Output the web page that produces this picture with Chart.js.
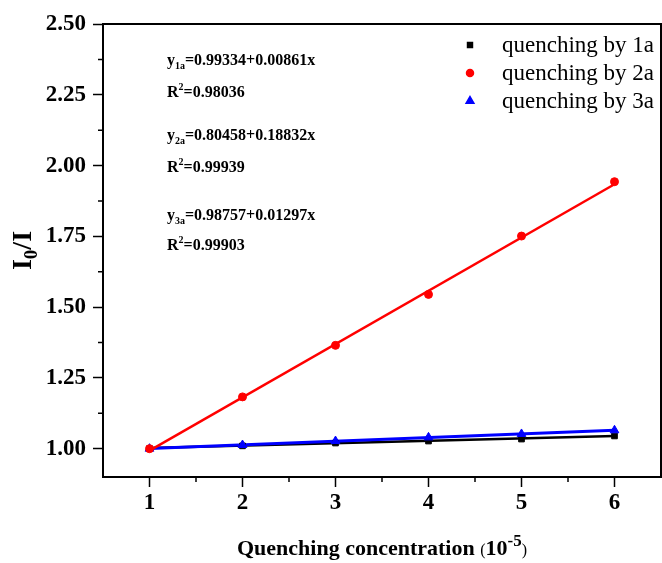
<!DOCTYPE html>
<html>
<head>
<meta charset="utf-8">
<script src="https://cdn.jsdelivr.net/npm/chart.js@4.4.0/dist/chart.umd.min.js"></script>
<style>
  body { margin: 0; background: #fff; }
  canvas { display: block; }
</style>
</head>
<body>
<canvas id="quenchChart" width="662" height="563"></canvas>
<script>
// data
var concentrations = [1, 2, 3, 4, 5, 6];
var quench1a = [1.000, 1.010, 1.020, 1.027, 1.034, 1.045];
var quench2a = [1.000, 1.183, 1.365, 1.545, 1.751, 1.943];
var quench3a = [1.000, 1.013, 1.027, 1.040, 1.052, 1.065];

// ends of the fitted lines
var fitX = [1, 6];
var fit1a = [1.002, 1.045];
var fit2a = [0.993, 1.934];
var fit3a = [1.001, 1.065];

var xTicks = [1, 2, 3, 4, 5, 6];
var yTicks = [1.00, 1.25, 1.50, 1.75, 2.00, 2.25, 2.50];

var seriesLabels = ["quenching by 1a", "quenching by 2a", "quenching by 3a"];
var fitNames = ["1a", "2a", "3a"];
var fitEquations = ["=0.99334+0.00861x", "=0.80458+0.18832x", "=0.98757+0.01297x"];
var fitR2 = ["=0.98036", "=0.99939", "=0.99903"];

var serif = "'Liberation Serif', 'Times New Roman', serif";

function toPoints(xs, ys) {
    return xs.map(function(x, i) { return { x: x, y: ys[i] }; });
}

var extrasPlugin = {
    id: "extras",
    afterDraw: function(chart) {
        var ctx = chart.ctx;
        var area = chart.chartArea;
        var xs = chart.scales.x;
        var ys = chart.scales.y;
        ctx.save();

        // frame top and right
        ctx.strokeStyle = "#000";
        ctx.lineWidth = 2;
        ctx.beginPath();
        ctx.moveTo(area.left, area.top);
        ctx.lineTo(area.right, area.top);
        ctx.lineTo(area.right, area.bottom);
        ctx.stroke();

        // minor ticks
        ctx.lineWidth = 1.5;
        ctx.beginPath();
        for (var i = 0; i < xTicks.length - 1; i++) {
            var px = xs.getPixelForValue((xTicks[i] + xTicks[i + 1]) / 2);
            ctx.moveTo(px, area.bottom);
            ctx.lineTo(px, area.bottom + 5);
        }
        for (var j = 0; j < yTicks.length - 1; j++) {
            var py = ys.getPixelForValue((yTicks[j] + yTicks[j + 1]) / 2);
            ctx.moveTo(area.left, py);
            ctx.lineTo(area.left - 5, py);
        }
        ctx.stroke();

        ctx.fillStyle = "#000";
        ctx.textBaseline = "alphabetic";
        ctx.textAlign = "left";

        // x title
        var parts = [
            { t: "Quenching concentration ", f: "bold 22px " + serif, dy: 0 },
            { t: "(", f: "16px " + serif, dy: 0 },
            { t: "10", f: "bold 22px " + serif, dy: 0 },
            { t: "-5", f: "bold 17px " + serif, dy: -9 },
            { t: ")", f: "16px " + serif, dy: 0 }
        ];
        var total = 0;
        parts.forEach(function(p) { ctx.font = p.f; total += ctx.measureText(p.t).width; });
        var cx = (area.left + area.right) / 2 - total / 2;
        parts.forEach(function(p) {
            ctx.font = p.f;
            ctx.fillText(p.t, cx, 555 + p.dy);
            cx += ctx.measureText(p.t).width;
        });

        // y title, rotated
        ctx.save();
        ctx.translate(31, (area.top + area.bottom) / 2);
        ctx.rotate(-Math.PI / 2);
        var yParts = [
            { t: "I", f: "bold 28px " + serif, dy: 0 },
            { t: "0", f: "bold 19px " + serif, dy: 6 },
            { t: "/I", f: "bold 28px " + serif, dy: 0 }
        ];
        var yTotal = 0;
        yParts.forEach(function(p) { ctx.font = p.f; yTotal += ctx.measureText(p.t).width; });
        var cy = -yTotal / 2;
        yParts.forEach(function(p) {
            ctx.font = p.f;
            ctx.fillText(p.t, cy, p.dy);
            cy += ctx.measureText(p.t).width;
        });
        ctx.restore();

        // fit equations
        var eqBase = [65, 140, 220];
        var r2Base = [97, 172, 250];
        for (var k = 0; k < fitNames.length; k++) {
            var ex = 167;
            ctx.font = "bold 16px " + serif;
            ctx.fillText("y", ex, eqBase[k]);
            ex += ctx.measureText("y").width;
            ctx.font = "bold 10px " + serif;
            ctx.fillText(fitNames[k], ex, eqBase[k] + 4);
            ex += ctx.measureText(fitNames[k]).width;
            ctx.font = "bold 16px " + serif;
            ctx.fillText(fitEquations[k], ex, eqBase[k]);

            var rx = 167;
            ctx.fillText("R", rx, r2Base[k]);
            rx += ctx.measureText("R").width;
            ctx.font = "bold 10px " + serif;
            ctx.fillText("2", rx, r2Base[k] - 7);
            rx += ctx.measureText("2").width;
            ctx.font = "bold 16px " + serif;
            ctx.fillText(fitR2[k], rx, r2Base[k]);
        }

        // legend
        var rows = [45, 73, 101];
        ctx.font = "23px " + serif;
        ctx.textBaseline = "middle";
        for (var n = 0; n < seriesLabels.length; n++) {
            var ds = chart.data.datasets[n];
            ctx.fillStyle = ds.backgroundColor;
            ctx.strokeStyle = ds.borderColor;
            Chart.helpers.drawPoint(ctx, {
                pointStyle: ds.pointStyle,
                radius: n === 2 ? 4.5 : 3.5,
                rotation: 0,
                borderWidth: 1
            }, 470, rows[n]);
            ctx.fillStyle = "#000";
            ctx.fillText(seriesLabels[n], 502, rows[n] + 1);
        }

        ctx.restore();
    }
};

var tickFont = { family: serif, size: 23, weight: "bold" };

new Chart(document.getElementById("quenchChart"), {
    type: "scatter",
    data: {
        datasets: [
            {
                label: seriesLabels[0],
                data: toPoints(concentrations, quench1a),
                pointStyle: "rect",
                pointRadius: 4,
                backgroundColor: "#000",
                borderColor: "#000",
                order: 3
            },
            {
                label: seriesLabels[1],
                data: toPoints(concentrations, quench2a),
                pointStyle: "circle",
                pointRadius: 4,
                backgroundColor: "#ff0000",
                borderColor: "#ff0000",
                order: 1
            },
            {
                label: seriesLabels[2],
                data: toPoints(concentrations, quench3a),
                pointStyle: "triangle",
                pointRadius: 5,
                backgroundColor: "#0000ff",
                borderColor: "#0000ff",
                order: 2
            },
            {
                type: "line",
                label: "fit 1a",
                data: toPoints(fitX, fit1a),
                borderColor: "#000",
                borderWidth: 2.5,
                pointRadius: 0,
                order: 6
            },
            {
                type: "line",
                label: "fit 2a",
                data: toPoints(fitX, fit2a),
                borderColor: "#ff0000",
                borderWidth: 2.5,
                pointRadius: 0,
                order: 4
            },
            {
                type: "line",
                label: "fit 3a",
                data: toPoints(fitX, fit3a),
                borderColor: "#0000ff",
                borderWidth: 3,
                pointRadius: 0,
                order: 5
            }
        ]
    },
    options: {
        responsive: false,
        animation: false,
        layout: { autoPadding: false, padding: { top: 24, right: 1, left: 0, bottom: 0 } },
        plugins: {
            legend: { display: false },
            tooltip: { enabled: false }
        },
        scales: {
            x: {
                type: "linear",
                min: 0.5,
                max: 6.5,
                afterBuildTicks: function(scale) {
                    scale.ticks = xTicks.map(function(v) { return { value: v }; });
                },
                afterFit: function(scale) {
                    scale.height = 86;
                    scale.paddingLeft = 0;
                    scale.paddingRight = 0;
                },
                border: { color: "#000", width: 2 },
                grid: { drawOnChartArea: false, tickLength: 10, tickColor: "#000", tickWidth: 1.5 },
                ticks: { color: "#000", font: tickFont, padding: 2, maxRotation: 0 }
            },
            y: {
                min: 0.9,
                max: 2.5,
                afterBuildTicks: function(scale) {
                    scale.ticks = yTicks.map(function(v) { return { value: v }; });
                },
                afterFit: function(scale) {
                    scale.width = 103;
                    scale.paddingTop = 0;
                    scale.paddingBottom = 0;
                },
                border: { color: "#000", width: 2 },
                grid: { drawOnChartArea: false, tickLength: 10, tickColor: "#000", tickWidth: 1.5 },
                ticks: {
                    color: "#000",
                    font: tickFont,
                    padding: 7,
                    callback: function(v) { return Number(v).toFixed(2); }
                }
            }
        }
    },
    plugins: [extrasPlugin]
});
</script>
</body>
</html>
